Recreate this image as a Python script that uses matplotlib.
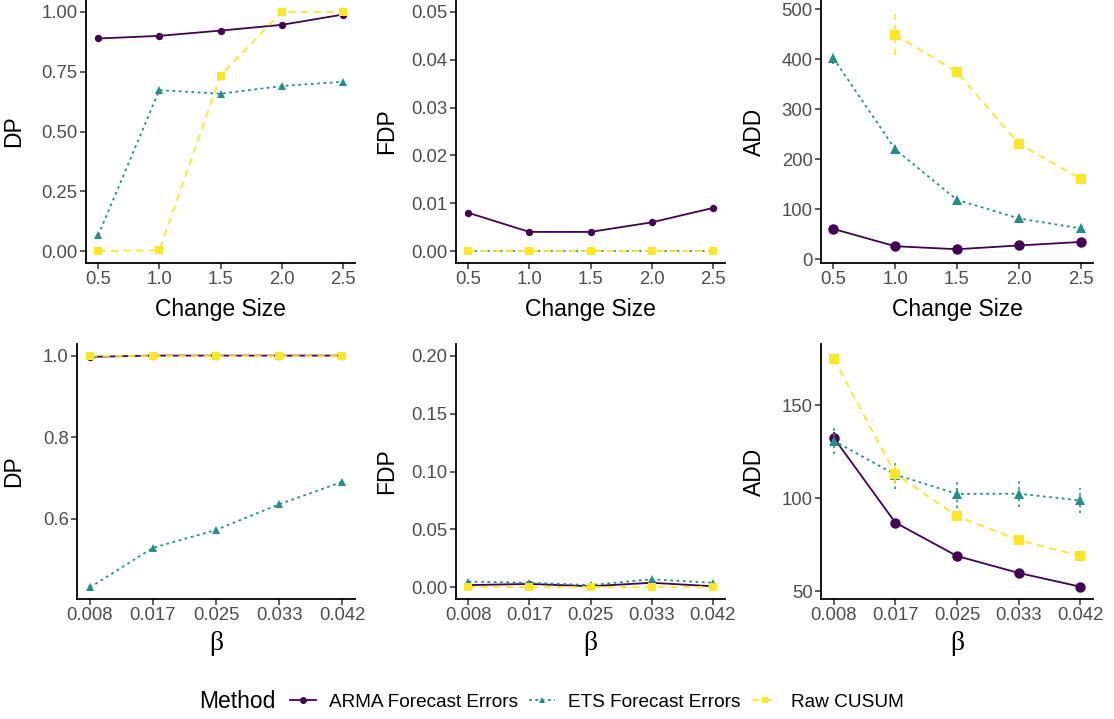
import numpy as np
import matplotlib
matplotlib.use("Agg")
import matplotlib.pyplot as plt
from matplotlib.lines import Line2D

plt.rcParams["font.family"] = ["Liberation Sans", "DejaVu Sans"]

methods = ["ARMA Forecast Errors", "ETS Forecast Errors", "Raw CUSUM"]
colors = ["#440154", "#21908C", "#FDE725"]
styles = ["-", (0, (1.5, 2)), (0, (4, 3))]
markers = ["o", "^", "s"]

# top row: change size
change_size = [0.5, 1.0, 1.5, 2.0, 2.5]
dp_size = {
    "ARMA Forecast Errors": [0.889, 0.900, 0.922, 0.946, 0.989],
    "ETS Forecast Errors": [0.066, 0.673, 0.658, 0.690, 0.708],
    "Raw CUSUM": [0.0, 0.003, 0.734, 1.0, 1.0],
}
fdp_size = {
    "ARMA Forecast Errors": [0.008, 0.004, 0.004, 0.006, 0.009],
    "ETS Forecast Errors": [0.0, 0.0, 0.0, 0.0, 0.0],
    "Raw CUSUM": [0.0, 0.0, 0.0, 0.0, 0.0],
}
add_size = {
    "ARMA Forecast Errors": [61, 26.5, 20.5, 28, 35],
    "ETS Forecast Errors": [402, 220, 119, 82, 62],
    "Raw CUSUM": [np.nan, 449, 374, 231, 161],
}
add_size_err = {
    "ARMA Forecast Errors": [3, 2, 1.5, 2, 2],
    "ETS Forecast Errors": [12, 8, 5, 4, 3],
    "Raw CUSUM": [np.nan, 41, 8, 6, 5],
}

# bottom row: beta
beta = [1 / 120, 2 / 120, 3 / 120, 4 / 120, 5 / 120]
beta_labels = ["0.008", "0.017", "0.025", "0.033", "0.042"]
dp_beta = {
    "ARMA Forecast Errors": [0.997, 1.0, 1.0, 1.0, 1.0],
    "ETS Forecast Errors": [0.431, 0.528, 0.572, 0.635, 0.690],
    "Raw CUSUM": [1.0, 1.0, 1.0, 1.0, 1.0],
}
fdp_beta = {
    "ARMA Forecast Errors": [0.002, 0.003, 0.001, 0.004, 0.001],
    "ETS Forecast Errors": [0.005, 0.004, 0.002, 0.007, 0.004],
    "Raw CUSUM": [0.0, 0.0, 0.0, 0.0, 0.0],
}
add_beta = {
    "ARMA Forecast Errors": [132.5, 86.8, 68.8, 59.7, 52.3],
    "ETS Forecast Errors": [130.8, 112.6, 102.2, 102.3, 98.7],
    "Raw CUSUM": [175, 113, 90.2, 77.3, 68.9],
}
add_beta_err = {
    "ARMA Forecast Errors": [3, 2, 1.5, 1.5, 1.5],
    "ETS Forecast Errors": [7, 8, 7.5, 7, 6.7],
    "Raw CUSUM": [3, 5, 2.5, 2, 2],
}

W, H = 1114, 719
fig = plt.figure(figsize=(W / 100, H / 100), dpi=100)


def make_ax(l, r, t, b):
    return fig.add_axes([l / W, 1 - b / H, (r - l) / W, (b - t) / H])


def style(ax):
    for s in ["top", "right"]:
        ax.spines[s].set_visible(False)
    for s in ["left", "bottom"]:
        ax.spines[s].set_linewidth(1.3)
        ax.spines[s].set_color("black")
    ax.tick_params(length=4, width=1.1, color="#333333", labelsize=13.3,
                   labelcolor="#4D4D4D", pad=2)


def draw(ax, x, data, ms, err=None):
    for m, c, ls, mk in zip(methods, colors, styles, markers):
        y = data[m]
        if err is not None:
            eb = ax.errorbar(x, y, yerr=err[m], color=c, linestyle="none",
                             elinewidth=1.2, capsize=0)
            for col in eb[2]:
                col.set_linestyle(ls)
        ax.plot(x, y, color=c, linestyle=ls, linewidth=1.3, marker=mk,
                markersize=ms, markeredgewidth=0)


def finish(ax, ylabel, xlabel, lx, beta_label=False):
    ax.set_ylabel(ylabel, fontsize=16.5)
    ax.yaxis.set_label_coords(lx, 0.5)
    if beta_label:
        ax.set_xlabel(xlabel, fontsize=20, family="Liberation Serif", labelpad=5)
    else:
        ax.set_xlabel(xlabel, fontsize=16.5, labelpad=7)


axes = [
    make_ax(86, 355, 0, 263), make_ax(456, 725, 0, 263), make_ax(821, 1093, 0, 263),
    make_ax(77, 355, 344, 599), make_ax(456, 725, 344, 599), make_ax(821, 1093, 344, 599),
]
for ax in axes:
    style(ax)

# top row
ax = axes[0]
draw(ax, change_size, dp_size, 5.3)
ax.set_ylim(-0.05, 1.05)
ax.set_yticks([0, 0.25, 0.5, 0.75, 1.0], ["0.00", "0.25", "0.50", "0.75", "1.00"])
finish(ax, "DP", "Change Size", -0.227)

ax = axes[1]
draw(ax, change_size, fdp_size, 5.3)
ax.set_ylim(-0.0025, 0.0525)
ax.set_yticks([0, 0.01, 0.02, 0.03, 0.04, 0.05],
              ["0.00", "0.01", "0.02", "0.03", "0.04", "0.05"])
finish(ax, "FDP", "Change Size", -0.216)

ax = axes[2]
draw(ax, change_size, add_size, 7.5, add_size_err)
ax.set_ylim(-7, 518)
ax.set_yticks([0, 100, 200, 300, 400, 500])
finish(ax, "ADD", "Change Size", -0.202)

for ax in axes[:3]:
    ax.set_xlim(0.4, 2.6)
    ax.set_xticks(change_size, ["0.5", "1.0", "1.5", "2.0", "2.5"])

# bottom row
ax = axes[3]
draw(ax, beta, dp_beta, 5.3)
ax.set_ylim(0.4025, 1.0285)
ax.set_yticks([0.6, 0.8, 1.0], ["0.6", "0.8", "1.0"])
finish(ax, "DP", "β", -0.187, True)

ax = axes[4]
draw(ax, beta, fdp_beta, 5.3)
ax.set_ylim(-0.01, 0.21)
ax.set_yticks([0, 0.05, 0.1, 0.15, 0.2], ["0.00", "0.05", "0.10", "0.15", "0.20"])
finish(ax, "FDP", "β", -0.216, True)

ax = axes[5]
draw(ax, beta, add_beta, 7.5, add_beta_err)
ax.set_ylim(45.7, 182.8)
ax.set_yticks([50, 100, 150])
finish(ax, "ADD", "β", -0.202, True)

for ax in axes[3:]:
    ax.set_xlim(beta[0] - 0.0017, beta[-1] + 0.0017)
    ax.set_xticks(beta, beta_labels)

# legend
handles = [Line2D([], [], color=c, linestyle=ls, marker=mk, markersize=5,
                  linewidth=1.3, markeredgewidth=0)
           for c, ls, mk in zip(colors, styles, markers)]
fig.text(199 / W, 1 - 702 / H, "Method", fontsize=16.5, va="center", ha="left")
fig.legend(handles, methods, loc="center left", bbox_to_anchor=(290 / W, 1 - 702 / H),
           ncol=3, frameon=False, fontsize=13.7, handlelength=1.35, handletextpad=0.7,
           columnspacing=0.6, borderaxespad=0, borderpad=0)

fig.savefig("out.png", dpi=100)
